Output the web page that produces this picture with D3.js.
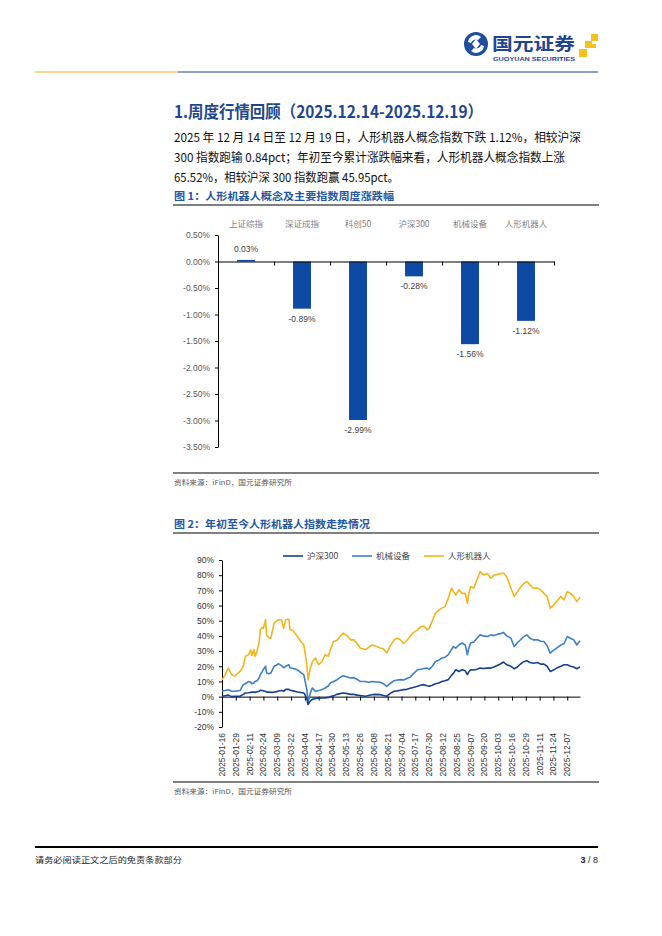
<!DOCTYPE html>
<html><head><meta charset="utf-8">
<script src="https://cdn.jsdelivr.net/npm/d3@7"></script>
<style>
html,body{margin:0;padding:0;background:#fff;}
svg{display:block;}
text{font-family:"Liberation Sans","Noto Sans CJK SC",Arial,sans-serif;}
.cjk{font-family:"Noto Sans CJK SC","Liberation Sans",sans-serif;}
</style></head>
<body>
<svg id="page" width="662" height="936"></svg>
<script>
// ---------- DATA ----------
const barCategories = ["上证综指","深证成指","科创50","沪深300","机械设备","人形机器人"];
const barValues = [0.03, -0.89, -2.99, -0.28, -1.56, -1.12];
const barTicks = [0.5, 0, -0.5, -1, -1.5, -2, -2.5, -3, -3.5];

const lineDates = ["01-16","01-19","01-22","01-25","01-28","02-02","02-05","02-07","02-10","02-12",
"02-13","02-15","02-16","02-18","02-20","02-21","02-23","02-24","02-26","02-27",
"03-01","03-03","03-06","03-09","03-10","03-13","03-15","03-17","03-20","03-21",
"03-24","03-28","03-31","04-03","04-04","04-06","04-07","04-09","04-11","04-14",
"04-17","04-20","04-23","04-26","04-28","05-01","05-04","05-07","05-10","05-14",
"05-17","05-20","05-23","05-26","05-31","06-03","06-06","06-09","06-14","06-17",
"06-20","06-23","06-27","06-30","07-03","07-06","07-09","07-12","07-15","07-19",
"07-22","07-25","07-28","07-30","08-02","08-05","08-08","08-11","08-14","08-17",
"08-20","08-22","08-24","08-27","08-30","09-02","09-04","09-05","09-07","09-10",
"09-13","09-16","09-19","09-23","09-26","09-29","10-02","10-05","10-08","10-11",
"10-15","10-18","10-21","10-24","10-27","10-30","11-02","11-05","11-09","11-12",
"11-15","11-18","11-21","11-24","11-27","12-01","12-04","12-07","12-10","12-13",
"12-16","12-19"];
const hs300 = [0.2,0.6,1.0,0.0,0.2,0.3,1.5,2.4,2.6,2.8,
3.0,3.0,2.8,3.2,3.6,4.2,4.0,3.8,3.5,3.0,
3.0,2.8,3.0,3.3,3.7,4.0,3.5,4.8,4.8,4.2,
3.8,3.0,2.7,2.4,1.5,-2.0,-5.2,-3.0,-1.8,-1.2,
-1.0,-0.9,-0.8,-0.5,0.0,0.5,1.5,2.0,2.4,2.0,
1.5,1.5,1.0,0.7,0.2,0.7,1.2,1.5,1.3,0.7,
0.2,2.0,3.5,3.8,4.2,4.6,4.8,5.5,6.0,6.8,
7.5,7.9,7.2,6.8,7.5,8.5,9.0,10.0,10.5,11.2,
14.0,15.5,17.7,16.6,17.7,17.0,14.5,16.0,17.7,17.5,
18.0,18.8,18.5,18.8,18.8,19.5,20.5,21.5,22.8,21.0,
20.0,18.4,19.5,21.5,23.0,23.6,22.5,22.0,22.5,21.4,
21.4,20.0,16.6,17.5,18.8,20.0,21.0,21.0,20.0,19.5,
18.4,19.57];
const machinery = [3.5,4.0,4.6,3.5,3.5,4.0,7.9,8.5,10.0,9.5,
8.5,9.0,10.0,10.5,12.3,14.5,16.6,18.0,20.0,15.5,
15.0,15.5,20.0,21.0,21.7,20.4,19.0,20.0,21.0,19.0,
18.5,17.7,16.0,14.5,11.0,4.0,-3.5,2.0,5.7,3.5,
4.0,4.6,5.7,7.0,9.0,10.0,11.0,12.5,13.8,13.0,
12.3,12.5,11.5,10.0,10.0,9.5,10.0,9.8,9.5,8.5,
6.8,8.5,10.5,11.0,11.2,11.0,12.0,12.7,15.0,17.7,
18.0,18.5,18.8,18.0,20.0,23.2,24.0,25.4,26.0,27.6,
31.0,33.0,32.0,34.0,35.3,34.0,27.6,31.0,35.3,36.0,
38.5,40.7,40.0,39.6,40.7,40.2,41.0,41.5,42.3,40.0,
38.5,33.0,35.5,37.5,39.5,40.7,38.5,37.4,37.5,36.5,
36.3,33.5,28.7,30.5,32.0,34.0,35.0,39.6,38.5,37.5,
34.0,36.8];
const humanoid = [11.0,14.5,18.8,14.5,13.5,16.6,20.0,26.5,27.6,30.9,
27.0,31.0,26.5,29.8,36.0,44.0,45.6,45.0,50.6,40.5,
39.0,38.5,48.4,50.0,50.6,50.6,45.0,50.6,51.0,44.0,
43.5,39.6,36.6,34.0,30.0,20.0,11.0,18.0,23.0,25.4,
21.0,23.0,27.6,26.5,30.9,36.3,37.0,39.6,41.8,40.0,
37.4,37.4,35.2,32.0,31.0,32.5,34.0,33.5,32.0,31.5,
28.7,33.0,37.4,38.5,37.5,35.0,37.0,39.6,42.0,44.0,
46.0,46.5,44.0,45.0,50.0,55.0,57.0,58.3,59.3,64.8,
71.4,69.0,67.0,70.3,68.0,68.0,61.5,67.0,72.5,71.4,
77.0,82.3,80.2,81.0,78.0,80.0,80.5,81.0,81.3,79.0,
71.4,66.0,69.0,72.0,74.5,75.8,73.6,71.4,71.5,70.3,
68.0,66.0,58.3,60.3,62.6,66.0,63.7,69.1,68.0,66.0,
62.6,65.52];
const seriesNames = ["沪深300","机械设备","人形机器人"];
const lineYTicks = [90,80,70,60,50,40,30,20,10,0,-10,-20];
const lineXTicks = ["2025-01-16","2025-01-29","2025-02-11","2025-02-24","2025-03-09","2025-03-22",
"2025-04-04","2025-04-17","2025-04-30","2025-05-13","2025-05-26","2025-06-08","2025-06-21",
"2025-07-04","2025-07-17","2025-07-30","2025-08-12","2025-08-25","2025-09-07","2025-09-20",
"2025-10-03","2025-10-16","2025-10-29","2025-11-11","2025-11-24","2025-12-07"];

// ---------- PAGE ----------
const svg = d3.select("#page");
const BLUE = "#1f4690", GOLD = "#f2b31b";

// header logo
const logo = svg.append("g");
logo.append("circle").attr("cx",476).attr("cy",44).attr("r",12).attr("fill","#1f4e9c");
logo.append("path").attr("d","M468,42 A8,8 0 0 1 481,37 L478,40 A5,5 0 0 0 471,43 Z").attr("fill","#fff");
logo.append("path").attr("d","M484,46 A8,8 0 0 1 471,51 L474,48 A5,5 0 0 0 481,45 Z").attr("fill","#fff");
logo.append("path").attr("d","M476,39 L480,44 L476,49 L472,44 Z").attr("fill","#fff");
logo.append("text").attr("class","cjk").attr("x",492).attr("y",49.5).attr("font-size",17.5).attr("font-weight","bold")
  .attr("fill",BLUE).attr("textLength",83).attr("lengthAdjust","spacingAndGlyphs").text("国元证券");
logo.append("text").attr("x",493).attr("y",60.5).attr("font-size",6.2).attr("font-weight","bold")
  .attr("fill",BLUE).attr("textLength",82).attr("lengthAdjust","spacingAndGlyphs").text("GUOYUAN SECURITIES");
[[591,34,7],[585,41,7],[579,49,8],[592,44,4]].forEach(s=>{
  logo.append("rect").attr("x",s[0]).attr("y",s[1]).attr("width",s[2]).attr("height",s[2]).attr("fill","#f5c21b");
});
svg.append("line").attr("x1",35).attr("x2",178).attr("y1",72).attr("y2",72).attr("stroke",GOLD).attr("stroke-width",1.2);
svg.append("line").attr("x1",178).attr("x2",598).attr("y1",72).attr("y2",72).attr("stroke",BLUE).attr("stroke-width",1.2);

// section title
svg.append("text").attr("class","cjk").attr("x",174).attr("y",118).attr("font-size",16.5).attr("font-weight","bold")
  .attr("fill",BLUE).attr("textLength",309).attr("lengthAdjust","spacingAndGlyphs")
  .text("1.周度行情回顾（2025.12.14-2025.12.19）");

const para = [
 ["2025 年 12 月 14 日至 12 月 19 日，人形机器人概念指数下跌 1.12%，相较沪深", 407],
 ["300 指数跑输 0.84pct；年初至今累计涨跌幅来看，人形机器人概念指数上涨", 391],
 ["65.52%，相较沪深 300 指数跑赢 45.95pct。", 225]
];
para.forEach((p,i)=>{
  svg.append("text").attr("class","cjk").attr("x",174).attr("y",142+i*20).attr("font-size",12.3)
    .attr("fill","#111").attr("textLength",p[1]).attr("lengthAdjust","spacingAndGlyphs").text(p[0]);
});

function figTitle(y, txt, len){
  svg.append("text").attr("class","cjk").attr("x",174).attr("y",y).attr("font-size",10.5).attr("font-weight","bold")
    .attr("fill","#2456a4").attr("textLength",len).attr("lengthAdjust","spacingAndGlyphs").text(txt);
}
function rule(y, w){
  svg.append("line").attr("x1",173).attr("x2",599).attr("y1",y).attr("y2",y).attr("stroke","#000").attr("stroke-width",w||1);
}
function source(y){
  svg.append("text").attr("class","cjk").attr("x",174).attr("y",y).attr("font-size",6.5).attr("fill","#555")
    .attr("textLength",118).attr("lengthAdjust","spacingAndGlyphs").text("资料来源：iFinD，国元证券研究所");
}

// ---------- FIGURE 1 ----------
figTitle(200, "图 1：人形机器人概念及主要指数周度涨跌幅", 220);
rule(205);
const xb = d3.scaleBand().domain(barCategories).range([218,554]).padding(0);
const yb = d3.scaleLinear().domain([-3.5,0.5]).range([447,235]);
const g1 = svg.append("g");
g1.selectAll("rect.bar").data(barValues).join("rect").attr("class","bar")
  .attr("x",(d,i)=>xb(barCategories[i])+xb.bandwidth()*0.34)
  .attr("width",xb.bandwidth()*0.32)
  .attr("y",d=>yb(Math.max(0,d)))
  .attr("height",d=>Math.abs(yb(d)-yb(0)))
  .attr("fill","#0e4aa3");
g1.selectAll("text.vl").data(barValues).join("text").attr("class","vl")
  .attr("x",(d,i)=>xb(barCategories[i])+xb.bandwidth()/2)
  .attr("y",d=> d>=0 ? yb(d)-8 : yb(d)+13)
  .attr("text-anchor","middle").attr("font-size",8.5).attr("fill","#404040")
  .text(d=>d.toFixed(2)+"%");
g1.selectAll("text.cat").data(barCategories).join("text").attr("class","cat cjk")
  .attr("x",d=>xb(d)+xb.bandwidth()/2).attr("y",227).attr("text-anchor","middle")
  .attr("font-size",8.5).attr("fill","#7f7f7f").text(d=>d);
const yAxis1 = g1.append("g").attr("transform","translate(218,0)")
  .call(d3.axisLeft(yb).tickValues(barTicks).tickSize(3).tickSizeOuter(0).tickFormat(d=>d.toFixed(2)+"%"));
yAxis1.selectAll("text").attr("font-size",8.5).attr("fill","#595959").attr("x",-8).style("font-family","Liberation Sans");
yAxis1.select(".domain").attr("stroke","#000");
yAxis1.selectAll(".tick line").attr("stroke","#000");
const xIdx = d3.scaleLinear().domain([0,6]).range([218,554]);
const xAxis1 = g1.append("g").attr("transform",`translate(0,${yb(0)})`)
  .call(d3.axisBottom(xIdx).tickValues([1,2,3,4,5,6]).tickSize(4).tickSizeOuter(0).tickFormat(""));
xAxis1.select(".domain").attr("stroke","#000");
xAxis1.selectAll(".tick line").attr("stroke","#000");
rule(473, 1.2);
source(485);

// ---------- FIGURE 2 ----------
figTitle(528, "图 2：年初至今人形机器人指数走势情况", 196);
rule(533);
const parse = d3.timeParse("%Y-%m-%d");
const dts = lineDates.map(d=>parse("2025-"+d));
const xl = d3.scaleTime().domain([parse("2025-01-16"),parse("2025-12-19")]).range([222,580]);
const yl = d3.scaleLinear().domain([-20,90]).range([727,560]);
const g2 = svg.append("g");
const yAxis2 = g2.append("g").attr("transform","translate(222,0)")
  .call(d3.axisLeft(yl).tickValues(lineYTicks).tickSize(3).tickSizeOuter(0).tickFormat(d=>d+"%"));
yAxis2.selectAll("text").attr("font-size",8.5).attr("fill","#333").attr("x",-8).style("font-family","Liberation Sans");
yAxis2.select(".domain").attr("stroke","#000");
yAxis2.selectAll(".tick line").attr("stroke","#000");
const xTickDates = lineXTicks.map(parse);
const xAxis2 = g2.append("g").attr("transform",`translate(0,${yl(0)})`)
  .call(d3.axisBottom(xl).tickValues(xTickDates).tickSize(4).tickSizeOuter(0).tickFormat(""));
xAxis2.select(".domain").attr("stroke","#000");
xAxis2.selectAll(".tick line").attr("stroke","#000");
g2.selectAll("text.dl").data(lineXTicks).join("text").attr("class","dl")
  .attr("transform",(d,i)=>`translate(${xl(xTickDates[i])+3},733) rotate(-90)`)
  .attr("text-anchor","end").attr("font-size",8.5).attr("fill","#333").text(d=>d);

const colors = ["#17408f","#3c80c8","#f2b51c"];
const allSeries = [hs300, machinery, humanoid];
const line = d3.line().x((d,i)=>xl(dts[i])).y(d=>yl(d));
[2,1,0].forEach(k=>{
  g2.append("path").datum(allSeries[k]).attr("d",line).attr("fill","none")
    .attr("stroke",colors[k]).attr("stroke-width",1.6).attr("stroke-linejoin","round");
});
// legend
const legX = [283,352,424];
seriesNames.forEach((n,i)=>{
  g2.append("line").attr("x1",legX[i]).attr("x2",legX[i]+20).attr("y1",556).attr("y2",556)
    .attr("stroke",colors[i]).attr("stroke-width",1.6);
  g2.append("text").attr("class","cjk").attr("x",legX[i]+24).attr("y",559).attr("font-size",8.5)
    .attr("fill","#444").text(n);
});
rule(782, 1.2);
source(794);

// ---------- FOOTER ----------
svg.append("line").attr("x1",35).attr("x2",598).attr("y1",847).attr("y2",847).attr("stroke","#000").attr("stroke-width",1.8);
svg.append("text").attr("class","cjk").attr("x",35).attr("y",863).attr("font-size",8.5).attr("fill","#222")
  .attr("textLength",147).attr("lengthAdjust","spacingAndGlyphs").text("请务必阅读正文之后的免责条款部分");
const pg = svg.append("text").attr("x",598).attr("y",863).attr("text-anchor","end").attr("font-size",9).attr("fill","#222");
pg.append("tspan").attr("font-weight","bold").text("3");
pg.append("tspan").text(" / 8");
</script>
</body></html>
